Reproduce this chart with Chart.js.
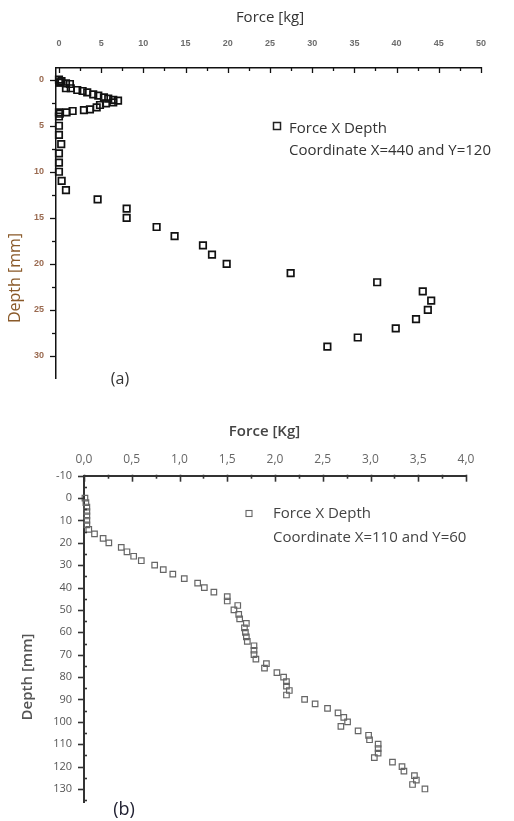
<!DOCTYPE html>
<html>
<head>
<meta charset="utf-8">
<script src="https://cdn.jsdelivr.net/npm/chart.js@4.4.0/dist/chart.umd.min.js"></script>
<style>
  html, body { margin: 0; padding: 0; background: #fff; }
  #wrapA { position: absolute; left: 0; top: 0; width: 514px; height: 400px; }
  #wrapB { position: absolute; left: 0; top: 400px; width: 514px; height: 421px; }
</style>
</head>
<body>
<div id="wrapA"><canvas id="chartA"></canvas></div>
<div id="wrapB"><canvas id="chartB"></canvas></div>
<script>
// data, panel (a): coordinate X=440 and Y=120
const depthA = [0, 0.15, 0.3, 0.33, 0.4, 0.47, 0.93, 0.93, 1.12, 1.23, 1.37, 1.59, 1.74, 1.91, 2.06, 2.2, 2.28,
  2.46, 2.57, 2.75, 3.0, 3.22, 3.3, 3.4, 3.55, 3.55, 3.7, 4.0,
  5, 6, 7, 8, 9, 10, 11, 12, 13, 14, 15, 16, 17, 18, 19, 20, 21, 22, 23, 24, 25, 26, 27, 28, 29];
const forceA = [0, 0.3, 0.15, 0.1, 0.83, 1.3, 0.83, 1.4, 2.17, 2.8, 3.35, 4.06, 4.66, 5.33, 5.84, 6.43, 7.0,
  6.43, 5.57, 4.86, 4.47, 3.67, 2.96, 1.62, 0.9, 0, 0.1, 0,
  0, 0, 0.27, 0, 0, 0, 0.32, 0.83, 4.58, 8.02, 8.02, 11.57, 13.7, 17.06, 18.13, 19.87, 27.45, 37.7, 43.1, 44.1, 43.7, 42.3, 39.9, 35.4, 31.8];

// data, panel (b): coordinate X=110 and Y=60
const depthB = [0, 2, 4, 6, 8, 10, 12, 14, 16, 18, 20, 22, 24, 26, 28, 30, 32, 34, 36, 38, 40, 42, 44, 46, 48, 50,
  52, 54, 56, 58, 60, 62, 64, 66, 68, 70, 72, 74, 76, 78, 80, 82, 84, 86, 88, 90, 92, 94, 96, 98, 100,
  102, 104, 106, 108, 110, 112, 114, 116, 118, 120, 122, 124, 126, 128, 130];
const forceB = [0.01, 0.02, 0.03, 0.03, 0.03, 0.03, 0.03, 0.05, 0.11, 0.2, 0.26, 0.39, 0.45, 0.52, 0.6, 0.74, 0.83, 0.93, 1.05, 1.19, 1.26, 1.36, 1.5, 1.5, 1.61, 1.57,
  1.62, 1.63, 1.7, 1.68, 1.69, 1.7, 1.71, 1.78, 1.78, 1.78, 1.8, 1.91, 1.89, 2.02, 2.09, 2.12, 2.12, 2.15, 2.12, 2.31, 2.42, 2.55, 2.66, 2.72, 2.76,
  2.69, 2.87, 2.98, 2.99, 3.08, 3.08, 3.08, 3.04, 3.23, 3.33, 3.35, 3.46, 3.48, 3.44, 3.57];

// tick values and labels
const forceTicksA = [0, 5, 10, 15, 20, 25, 30, 35, 40, 45, 50];
const depthTicksA = [0, 5, 10, 15, 20, 25, 30];
const forceTicksB = [0, 0.5, 1, 1.5, 2, 2.5, 3, 3.5, 4];
const forceLabelsB = ['0,0', '0,5', '1,0', '1,5', '2,0', '2,5', '3,0', '3,5', '4,0'];
const depthTicksB = [-10, 0, 10, 20, 30, 40, 50, 60, 70, 80, 90, 100, 110, 120, 130];

const toPoints = (xs, ys) => xs.map((x, i) => ({ x: x, y: ys[i] }));
const setTicks = vals => scale => { scale.ticks = vals.map(v => ({ value: v })); };

// tick marks (major + minor) and free text drawn on top
const decor = {
  id: 'decor',
  afterDraw(chart, args, o) {
    const ctx = chart.ctx;
    const xs = chart.scales.x, ys = chart.scales.y;
    const top = chart.chartArea.top, left = chart.chartArea.left;
    ctx.save();
    ctx.strokeStyle = o.tickColor;
    ctx.lineWidth = o.tickWidth;
    const line = (x1, y1, x2, y2) => { ctx.beginPath(); ctx.moveTo(x1, y1); ctx.lineTo(x2, y2); ctx.stroke(); };
    const half = o.xStep / 2;
    for (let v = Math.ceil(xs.min / half) * half; v <= xs.max + 1e-9; v += half) {
      const major = Math.abs(v / o.xStep - Math.round(v / o.xStep)) < 1e-6;
      const px = Math.round(xs.getPixelForValue(v)) + 0.5;
      line(px, top - 1, px, top + (major ? o.xMajor : o.xMinor));
    }
    const halfY = o.yStep / 2;
    for (let v = Math.ceil(ys.min / halfY) * halfY; v <= ys.max + 1e-9; v += halfY) {
      const major = Math.abs(v / o.yStep - Math.round(v / o.yStep)) < 1e-6;
      const py = Math.round(ys.getPixelForValue(v)) + 0.5;
      if (major) line(left, py, left - o.yMajor, py);
      else line(left + o.yMinorIn, py, left - o.yMinorOut, py);
    }
    if (o.box) {
      ctx.strokeStyle = o.box.color;
      ctx.lineWidth = o.box.width;
      const s = o.box.size;
      ctx.strokeRect(o.box.x - s / 2, o.box.y - s / 2, s, s);
    }
    ctx.textBaseline = 'middle';
    o.texts.forEach(t => {
      ctx.save();
      ctx.font = t.font;
      ctx.fillStyle = t.color;
      ctx.textAlign = t.align || 'left';
      ctx.translate(t.x, t.y);
      if (t.rot) ctx.rotate(t.rot);
      ctx.fillText(t.text, 0, 0);
      ctx.restore();
    });
    ctx.restore();
  }
};

// panel (a)
new Chart(document.getElementById('chartA'), {
  type: 'scatter',
  data: {
    datasets: [{
      label: 'Force X Depth',
      data: toPoints(forceA, depthA),
      pointStyle: 'rect',
      pointRadius: 4.6,
      borderWidth: 1.7,
      borderColor: '#111',
      backgroundColor: 'rgba(0,0,0,0)',
      clip: false
    }]
  },
  options: {
    responsive: true,
    maintainAspectRatio: false,
    animation: false,
    layout: { padding: { left: 0, top: 0, right: 33, bottom: 22 } },
    plugins: {
      legend: { display: false },
      tooltip: { enabled: false },
      decor: {
        tickColor: '#111', tickWidth: 1.3,
        xStep: 5, xMajor: 5, xMinor: 3,
        yStep: 5, yMajor: 6, yMinorIn: 0, yMinorOut: 4,
        box: { x: 277, y: 126, size: 7, color: '#222', width: 1.5 },
        texts: [
          { text: 'Force [kg]', x: 270, y: 18, font: '15px "Open Sans"', color: '#333', align: 'center' },
          { text: 'Depth [mm]', x: 15, y: 278, font: '16px "Open Sans"', color: '#8a5a2a', align: 'center', rot: -Math.PI / 2 },
          { text: 'Force X Depth', x: 289, y: 129, font: '15px "Open Sans"', color: '#333' },
          { text: 'Coordinate X=440 and Y=120', x: 289, y: 151, font: '15px "Open Sans"', color: '#333' },
          { text: '(a)', x: 120, y: 379, font: '16px "Open Sans"', color: '#333', align: 'center' }
        ]
      }
    },
    scales: {
      x: {
        type: 'linear', position: 'top', min: -0.35, max: 50,
        afterBuildTicks: setTicks(forceTicksA),
        afterFit: s => { s.height = 68; },
        grid: { display: false, drawTicks: false },
        border: { display: true, color: '#111', width: 1.5 },
        ticks: { autoSkip: false, maxRotation: 0, padding: 19, color: '#6d6d6d', font: { family: 'Liberation Sans', size: 9, weight: 'bold' } }
      },
      y: {
        type: 'linear', reverse: true, min: -1.27, max: 32.4,
        afterBuildTicks: setTicks(depthTicksA),
        afterFit: s => { s.width = 56; },
        grid: { display: false, drawTicks: false },
        border: { display: true, color: '#111', width: 1.5 },
        ticks: { autoSkip: false, padding: 12, color: '#9a6a50', font: { family: 'Liberation Sans', size: 9, weight: 'bold' } }
      }
    }
  },
  plugins: [decor]
});

// panel (b)
new Chart(document.getElementById('chartB'), {
  type: 'scatter',
  data: {
    datasets: [{
      label: 'Force X Depth',
      data: toPoints(forceB, depthB),
      pointStyle: 'rect',
      pointRadius: 3.9,
      borderWidth: 1.2,
      borderColor: '#666',
      backgroundColor: 'rgba(0,0,0,0)',
      clip: false
    }]
  },
  options: {
    responsive: true,
    maintainAspectRatio: false,
    animation: false,
    layout: { padding: { left: 0, top: 0, right: 48, bottom: 0 } },
    plugins: {
      legend: { display: false },
      tooltip: { enabled: false },
      decor: {
        tickColor: '#333', tickWidth: 1.6,
        xStep: 0.5, xMajor: 6, xMinor: 3,
        yStep: 10, yMajor: 6, yMinorIn: 3, yMinorOut: 0,
        box: { x: 249, y: 113.5, size: 6, color: '#666', width: 1.1 },
        texts: [
          { text: 'Force [Kg]', x: 264.5, y: 31.5, font: '600 15px "Open Sans"', color: '#444', align: 'center' },
          { text: 'Depth [mm]', x: 27.5, y: 277, font: '600 15px "Open Sans"', color: '#555', align: 'center', rot: -Math.PI / 2 },
          { text: 'Force X Depth', x: 273, y: 114, font: '15px "Open Sans"', color: '#444' },
          { text: 'Coordinate X=110 and Y=60', x: 273, y: 138, font: '15px "Open Sans"', color: '#444' },
          { text: '(b)', x: 124, y: 410, font: '18px "Open Sans"', color: '#223', align: 'center' }
        ]
      }
    },
    scales: {
      x: {
        type: 'linear', position: 'top', min: 0, max: 4,
        afterBuildTicks: setTicks(forceTicksB),
        afterFit: s => { s.height = 75.7; },
        grid: { display: false, drawTicks: false },
        border: { display: true, color: '#333', width: 2 },
        ticks: {
          autoSkip: false, maxRotation: 0, padding: 8.5, color: '#666',
          font: { family: 'Open Sans', size: 12 },
          callback: (v, i) => forceLabelsB[i]
        }
      },
      y: {
        type: 'linear', reverse: true, min: -10, max: 136,
        afterBuildTicks: setTicks(depthTicksB),
        afterFit: s => { s.width = 84; },
        grid: { display: false, drawTicks: false },
        border: { display: true, color: '#333', width: 2 },
        ticks: { autoSkip: false, padding: 12, color: '#555', font: { family: 'Open Sans', size: 11 } }
      }
    }
  },
  plugins: [decor]
});
</script>
</body>
</html>
